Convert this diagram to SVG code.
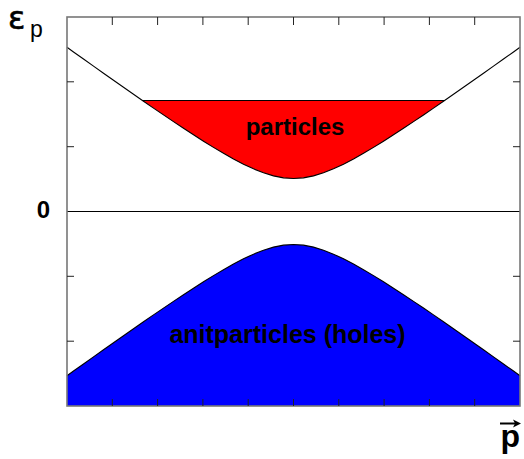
<svg xmlns="http://www.w3.org/2000/svg" width="524" height="459" viewBox="0 0 524 459">
<style>
.curve{fill:none;stroke:#000;stroke-width:1.1}
.tick{stroke:#222;stroke-width:1}
.lbl{font-family:"Liberation Sans",Arial,sans-serif;font-weight:bold;fill:#000}
</style>
<rect width="524" height="459" fill="#fff"/>
<g id="antiparticles">
<polygon fill="#0000ff" points="67,406 67,375.72 73.5,371.07 83.5,363.95 93.5,356.84 103.5,349.77 113.5,342.71 123.5,335.7 133.5,328.72 143.5,321.78 153.5,314.9 163.5,308.08 173.5,301.35 183.5,294.7 193.5,288.18 203.5,281.8 213.5,275.62 223.5,269.67 233.5,264.04 243.5,258.82 253.5,254.14 263.5,250.17 273.5,247.12 283.5,245.17 293.5,244.5 303.5,245.17 313.5,247.12 323.5,250.17 333.5,254.14 343.5,258.82 353.5,264.04 363.5,269.67 373.5,275.62 383.5,281.8 393.5,288.18 403.5,294.7 413.5,301.35 423.5,308.08 433.5,314.9 443.5,321.78 453.5,328.72 463.5,335.7 473.5,342.71 483.5,349.77 493.5,356.84 503.5,363.95 513.5,371.07 520,375.72 520,406"/>
<polyline class="curve" points="67,375.72 73.5,371.07 83.5,363.95 93.5,356.84 103.5,349.77 113.5,342.71 123.5,335.7 133.5,328.72 143.5,321.78 153.5,314.9 163.5,308.08 173.5,301.35 183.5,294.7 193.5,288.18 203.5,281.8 213.5,275.62 223.5,269.67 233.5,264.04 243.5,258.82 253.5,254.14 263.5,250.17 273.5,247.12 283.5,245.17 293.5,244.5 303.5,245.17 313.5,247.12 323.5,250.17 333.5,254.14 343.5,258.82 353.5,264.04 363.5,269.67 373.5,275.62 383.5,281.8 393.5,288.18 403.5,294.7 413.5,301.35 423.5,308.08 433.5,314.9 443.5,321.78 453.5,328.72 463.5,335.7 473.5,342.71 483.5,349.77 493.5,356.84 503.5,363.95 513.5,371.07 520,375.72"/>
<text class="lbl" x="287.5" y="343" font-size="25" text-anchor="middle">anitparticles (holes)</text>
</g>
<g id="particles">
<polygon fill="#ff0000" points="142.5,100.5 143.5,101.22 153.5,108.1 163.5,114.92 173.5,121.65 183.5,128.3 193.5,134.82 203.5,141.2 213.5,147.38 223.5,153.33 233.5,158.96 243.5,164.18 253.5,168.86 263.5,172.83 273.5,175.88 283.5,177.83 293.5,178.5 303.5,177.83 313.5,175.88 323.5,172.83 333.5,168.86 343.5,164.18 353.5,158.96 363.5,153.33 373.5,147.38 383.5,141.2 393.5,134.82 403.5,128.3 413.5,121.65 423.5,114.92 433.5,108.1 443.5,101.22 444.5,100.5"/>
<line x1="142.5" y1="100.5" x2="444.5" y2="100.5" stroke="#000" stroke-width="1.1"/>
<polyline class="curve" points="67,47.28 73.5,51.93 83.5,59.05 93.5,66.16 103.5,73.23 113.5,80.29 123.5,87.3 133.5,94.28 143.5,101.22 153.5,108.1 163.5,114.92 173.5,121.65 183.5,128.3 193.5,134.82 203.5,141.2 213.5,147.38 223.5,153.33 233.5,158.96 243.5,164.18 253.5,168.86 263.5,172.83 273.5,175.88 283.5,177.83 293.5,178.5 303.5,177.83 313.5,175.88 323.5,172.83 333.5,168.86 343.5,164.18 353.5,158.96 363.5,153.33 373.5,147.38 383.5,141.2 393.5,134.82 403.5,128.3 413.5,121.65 423.5,114.92 433.5,108.1 443.5,101.22 453.5,94.28 463.5,87.3 473.5,80.29 483.5,73.23 493.5,66.16 503.5,59.05 513.5,51.93 520,47.28"/>
<text class="lbl" x="295" y="135" font-size="24" text-anchor="middle">particles</text>
</g>
<g id="axes">
<line x1="67" y1="211.5" x2="520" y2="211.5" stroke="#000" stroke-width="1.1"/>
<rect x="67" y="17" width="453" height="389" fill="none" stroke="#777" stroke-width="1.6"/>
<path class="tick" d="M112.3,17v8M157.6,17v8M202.9,17v8M248.2,17v8M293.5,17v8M338.8,17v8M384.1,17v8M429.4,17v8M474.7,17v8M112.3,406v-7M157.6,406v-7M202.9,406v-7M248.2,406v-7M293.5,406v-7M338.8,406v-7M384.1,406v-7M429.4,406v-7M474.7,406v-7M67,81.8h7M67,146.7h7M67,276.3h7M67,341.2h7M520,81.8h-7M520,146.7h-7M520,276.3h-7M520,341.2h-7"/>
<text x="8" y="29" font-family="DejaVu Sans,sans-serif" font-size="32" fill="#000" stroke="#000" stroke-width="0.6">ε</text>
<text x="30" y="37" font-family="Liberation Sans,Arial,sans-serif" font-size="23" fill="#000">p</text>
<text class="lbl" x="50" y="218.3" font-size="24" text-anchor="end">0</text>
<text class="lbl" x="500.5" y="447" font-size="32">p</text>
<path d="M500,423.5H518" stroke="#000" stroke-width="2"/>
<path d="M521,423.5L513,419.5L515,423.5L513,427.5Z" fill="#000"/>
</g>
</svg>
